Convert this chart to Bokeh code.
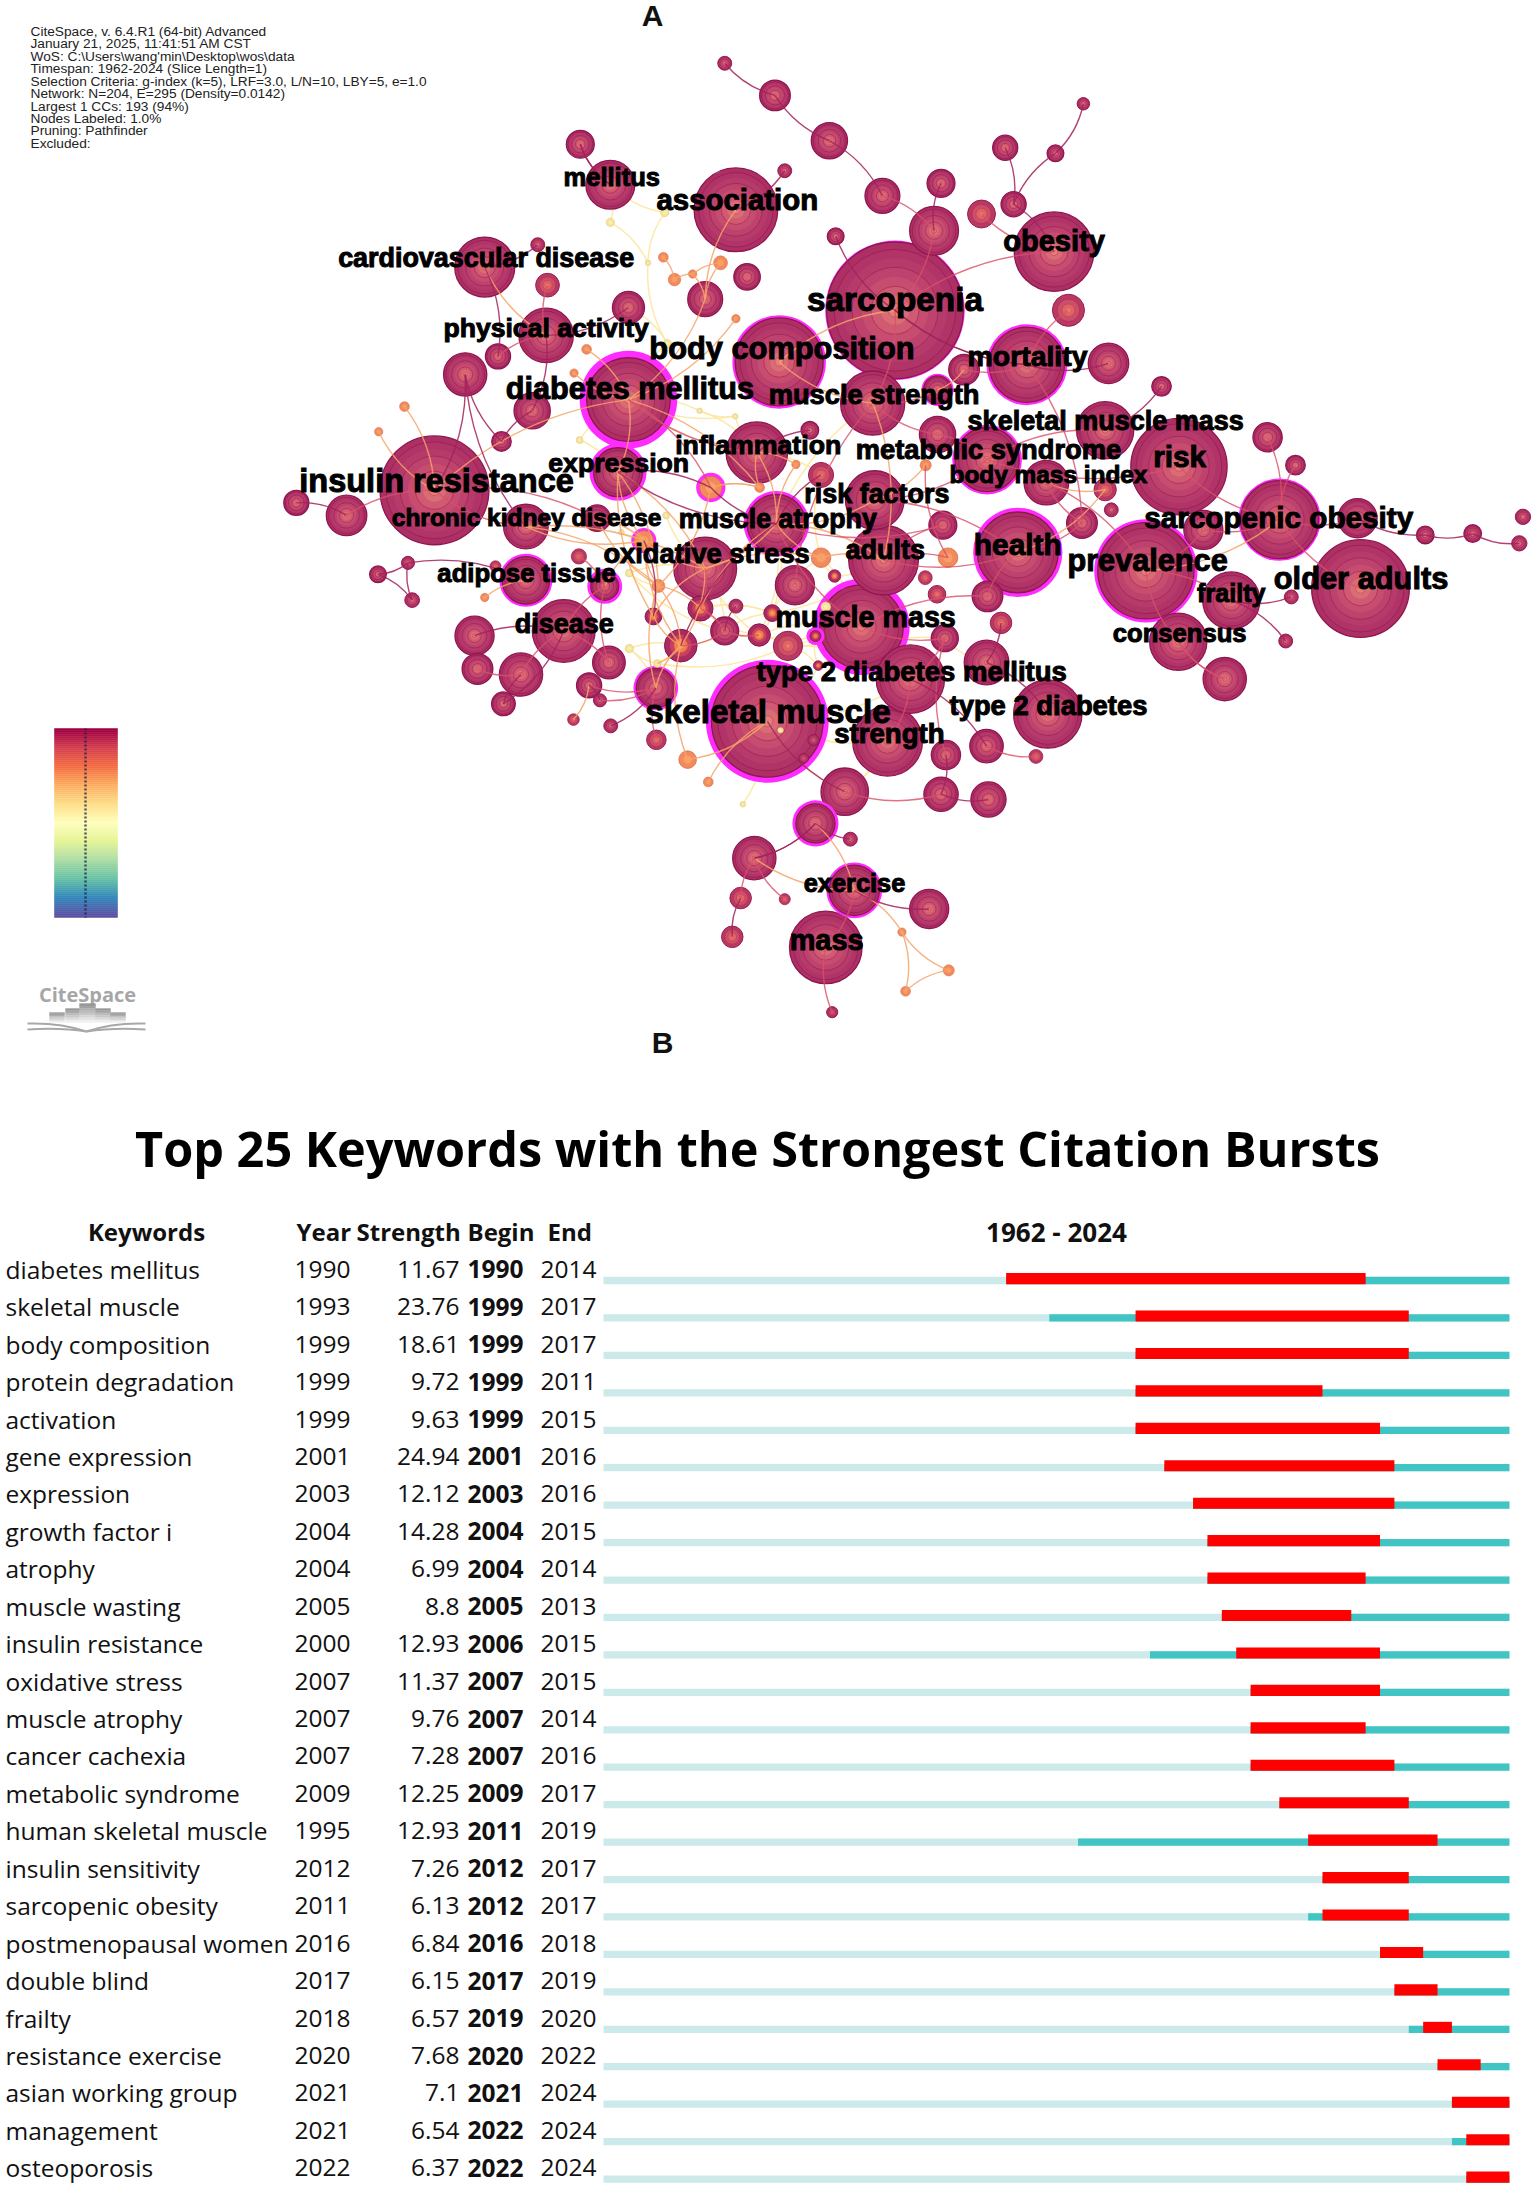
import numpy as np
from bokeh.plotting import figure
from bokeh.models import ColumnDataSource, Range1d
from bokeh.core.properties import value
from bokeh.embed import file_html
from bokeh.resources import INLINE
from bokeh.palettes import Spectral11

# ---------- burst table data ----------
keywords = ["diabetes mellitus", "skeletal muscle", "body composition", "protein degradation", "activation",
            "gene expression", "expression", "growth factor i", "atrophy", "muscle wasting",
            "insulin resistance", "oxidative stress", "muscle atrophy", "cancer cachexia", "metabolic syndrome",
            "human skeletal muscle", "insulin sensitivity", "sarcopenic obesity", "postmenopausal women", "double blind",
            "frailty", "resistance exercise", "asian working group", "management", "osteoporosis"]
years = [1990, 1993, 1999, 1999, 1999, 2001, 2003, 2004, 2004, 2005, 2000, 2007, 2007, 2007, 2009,
         1995, 2012, 2011, 2016, 2017, 2018, 2020, 2021, 2021, 2022]
strengths = [11.67, 23.76, 18.61, 9.72, 9.63, 24.94, 12.12, 14.28, 6.99, 8.8, 12.93, 11.37, 9.76, 7.28, 12.25,
             12.93, 7.26, 6.13, 6.84, 6.15, 6.57, 7.68, 7.1, 6.54, 6.37]
begins = [1990, 1999, 1999, 1999, 1999, 2001, 2003, 2004, 2004, 2005, 2006, 2007, 2007, 2007, 2009,
          2011, 2012, 2012, 2016, 2017, 2019, 2020, 2021, 2022, 2022]
ends = [2014, 2017, 2017, 2011, 2015, 2016, 2016, 2015, 2014, 2013, 2015, 2015, 2014, 2016, 2017,
        2019, 2017, 2017, 2018, 2019, 2020, 2022, 2024, 2024, 2024]
span_start, span_end = 1962, 2024

# ---------- network data (layout units), node id = position in list + 1 ----------
node_x = [519, 555, 415.5, 437, 527, 347, 385, 392, 450, 505,
          535, 516, 483, 475, 496, 437, 476, 464, 391, 356.5,
          333, 420, 411, 527, 478, 450, 381, 359, 289.5, 271,
          311, 248, 212, 442.5, 542, 509, 415, 501, 526.5, 376.5,
          427.5, 544, 461, 505, 556, 477, 445, 562, 594, 562,
          632, 674, 669, 598.5, 703, 726, 720, 756, 776, 755,
          641, 558, 765.3, 735.5, 794, 690.5, 625, 671.5, 832, 671.5,
          791.6, 844.5, 580, 707, 908, 928, 570, 663, 588, 626.5,
          749.5, 791.6, 796, 675.3, 916.6, 775, 862, 972.5, 1021, 1055,
          1088.4, 1091, 632.8, 729, 820.8, 974.6, 882, 925, 921, 844,
          877.3, 717, 707.3, 662.7, 679, 588, 597.7, 569.3, 671.1, 617,
          676.7, 706.6, 652, 750.5, 635.7, 677.5, 706.6, 742, 605, 674,
          708, 584, 609, 611.8, 665.5, 591.4, 596, 646, 679.5, 648.6,
          549.5, 564.3, 584, 586, 553, 591.4, 270.5, 292, 295, 376.5,
          347, 433, 414.5, 354.7, 450.6, 471.4, 467.9, 501.6, 527, 519,
          543.7, 487.5, 450.6, 470.7, 403.6, 339.7, 341.8, 373, 436, 421.8,
          360.4, 429.6, 469.6, 410.6, 437.3, 470, 492.4, 507.2, 532, 540.2,
          530.4, 524.4, 559, 582.6, 575.6]
node_y = [45, 68, 103, 132, 150, 191, 175, 204, 220, 214,
          198, 188, 200, 184, 196, 159, 152, 188, 240, 255,
          268, 250, 267, 228, 246, 286, 294, 316, 291, 309,
          351, 369, 360, 338, 324, 349, 315, 294, 298, 377,
          371, 349, 387, 407, 375, 369, 381, 644, 100.5, 122,
          140, 131, 165, 169, 153, 146, 105.5, 109.5, 74, 180,
          222, 259, 222, 261, 260, 264.5, 288.5, 279, 276.5, 311,
          308, 334, 308, 329, 313, 333, 332.5, 333, 340, 358,
          345.5, 350.5, 365, 376, 372, 374.4, 379.4, 371, 383, 382,
          389, 370, 401, 395.5, 408.7, 421.4, 430, 427.4, 459, 459.5,
          486.3, 446, 427, 413.6, 399.3, 399.3, 412.4, 419, 425.5, 448.8,
          457, 474.4, 486.3, 511.3, 530.8, 540.7, 534.3, 541.7, 567, 568.8,
          572.6, 589.7, 601, 637.7, 651, 678.6, 725, 667.6, 695, 710,
          516.5, 462.5, 455.4, 476.6, 439, 434.5, 411.2, 403, 429.7, 415.5,
          427.8, 419.8, 398.4, 405.5, 410.3, 419.5, 441.4, 435.7, 434, 451.8,
          454.7, 462.3, 464.4, 475.1, 451.8, 455.2, 479, 483, 474.4, 490.8,
          504, 501.5, 492.7, 515.3, 519.8, 529.8, 544, 560, 576, 614.6,
          643.2, 671, 523, 530, 543]
node_r = [5, 11, 10, 17.5, 30, 21.5, 5, 8.5, 11.5, 12.5,
          9.5, 5, 4.5, 3.5, 3, 3, 3, 2, 19.5, 9,
          15.5, 3.5, 3, 3, 3, 30, 13, 7, 3.5, 3,
          39, 14.5, 9, 17.5, 22, 8, 2.5, 2, 2, 16,
          9.5, 3.5, 7, 22.5, 21, 2.5, 2, 4, 13, 5,
          12.5, 10, 17.5, 6, 10, 9, 9, 6, 4.5, 28.5,
          49, 31.5, 11.5, 27, 14.5, 11, 23, 10, 7, 13,
          20.5, 34.5, 6.3, 23, 10.5, 7, 3, 4, 9, 21,
          16, 8, 5, 10, 28, 11, 14, 14, 6.3, 6.3,
          5.5, 5.5, 25, 29, 34.5, 35, 20.5, 5, 5, 20.5,
          15.5, 7.7, 11, 5, 7, 7, 4.5, 14, 6.3, 30,
          9.7, 16, 24.5, 24.5, 25, 10.5, 12, 5, 17, 12.3,
          12.6, 14, 5, 18, 14, 26, 4, 3, 4, 3.5,
          40, 10.5, 4, 3.5, 6, 3.5, 6, 4.7, 5.3, 17,
          3, 10, 5.5, 4, 2.8, 4.7, 6, 9, 5, 10,
          8, 11.7, 3, 2.8, 22.5, 14, 11, 15.5, 11.7, 9,
          8.5, 4.7, 14, 4.2, 5, 7, 6.3, 3.5, 2, 15.5,
          7.7, 7.7, 2, 4, 3.5]
# outer radius of the magenta centrality ring, by node id
node_ring = {26: 35, 34: 20.5, 36: 10.5, 43: 9, 45: 23.5, 61: 50, 62: 33.5, 64: 29, 68: 11.5, 74: 25,
             85: 29.5, 94: 32, 95: 37, 110: 34.5, 122: 16.5, 124: 20, 131: 44, 133: 6.5, 140: 19, 142: 12.5, 163: 16}
# node colour class by id; everything else is the dark crimson class
pink_ids = [8, 48, 55, 63, 79, 82, 102, 109, 132, 143, 144, 164, 166, 171, 172, 104, 118]
orange_ids = [12, 13, 14, 15, 22, 23, 24, 29, 30, 36, 42, 43, 77, 78, 105, 106, 128, 129, 130, 141, 146, 167, 168]
yellow_ids = [16, 17, 18, 25, 37, 38, 39, 46, 47, 136, 145, 153, 154, 169, 173]
warm_core_ids = [107, 134, 135, 147, 148, 151, 152, 133]

edges_crimson = [(1, 2), (2, 49), (49, 51), (52, 53), (54, 61), (56, 60), (57, 56), (58, 56), (59, 58), (50, 5), (3, 4), (4, 3),
                 (6, 7), (9, 19), (21, 28), (21, 40), (21, 31), (28, 27), (27, 19), (32, 33), (137, 138), (137, 139), (138, 139),
                 (138, 140), (155, 156), (155, 161), (158, 161), (160, 162), (163, 165), (61, 64), (64, 61), (64, 65), (71, 69),
                 (88, 89), (89, 90), (90, 91), (97, 98), (97, 99), (102, 112), (112, 114), (113, 117), (116, 120), (119, 131),
                 (120, 121), (122, 123), (122, 170), (170, 122), (124, 125), (171, 172), (149, 150), (147, 43), (6, 20),
                 (45, 152), (34, 45), (36, 45), (73, 35), (79, 45), (34, 36)]
edges_red = [(51, 53), (53, 61), (55, 60), (60, 61), (8, 19), (19, 20), (31, 32), (31, 40), (31, 41), (26, 36),
             (142, 155), (143, 142), (155, 158), (157, 158), (155, 159), (142, 159), (160, 163), (162, 163), (163, 166),
             (148, 44), (148, 150), (150, 152), (150, 151), (45, 110), (110, 111), (110, 103), (111, 116), (117, 118),
             (119, 120), (124, 126), (126, 127), (170, 171), (170, 48), (61, 67), (63, 64), (64, 66), (67, 68), (67, 70),
             (64, 86), (70, 74), (71, 74), (72, 74), (72, 85), (74, 80), (81, 86), (81, 95), (75, 85), (76, 85), (85, 88),
             (85, 87), (87, 95), (95, 97), (95, 100), (100, 101), (101, 100), (96, 85), (94, 86), (94, 80), (94, 93),
             (93, 84), (93, 105), (103, 94), (26, 35), (113, 111), (113, 115), (45, 84), (67, 108), (78, 105)]
edges_orange = [(10, 12), (10, 15), (14, 13), (13, 15), (15, 12), (10, 26), (5, 10), (6, 19), (29, 31), (30, 31), (26, 22),
                (26, 23), (26, 34), (26, 31), (34, 43), (34, 44), (43, 44), (41, 43), (40, 43), (43, 146), (146, 148), (146, 147),
                (147, 152), (146, 152), (43, 142), (140, 141), (160, 164), (154, 152), (167, 152), (167, 131), (168, 131), (44, 45),
                (122, 124), (124, 170), (124, 128), (128, 129), (128, 130), (129, 130), (61, 62), (66, 68), (82, 81), (82, 94),
                (78, 80), (77, 45), (80, 45), (85, 95), (45, 148), (35, 45), (24, 26), (40, 146), (34, 146), (44, 152), (93, 45),
                (62, 67), (44, 147), (35, 42), (42, 36), (45, 106), (106, 44), (106, 93), (146, 163), (43, 152), (34, 147),
                (26, 42), (36, 42), (152, 163), (40, 44), (41, 146), (77, 35), (67, 93), (36, 146)]
edges_yellow = [(4, 16), (4, 17), (16, 18), (17, 18), (18, 25), (25, 26), (9, 25), (35, 26), (38, 39), (26, 38), (26, 39),
                (135, 148), (151, 110), (148, 151), (150, 135), (107, 110), (136, 110), (132, 113), (133, 132), (133, 134),
                (134, 113), (131, 134), (131, 132), (131, 115), (131, 113), (110, 132), (163, 153), (163, 154), (153, 154), (119, 122),
                (119, 115), (45, 135), (45, 151), (107, 106), (44, 150), (151, 135), (37, 26), (37, 34), (46, 44), (47, 43),
                (131, 169), (145, 44), (145, 146), (112, 111), (115, 113), (44, 151), (106, 110), (67, 45), (35, 79), (79, 106),
                (135, 93), (107, 93), (151, 132), (150, 151), (154, 132), (145, 150), (153, 152), (134, 132), (148, 135),
                (133, 151), (119, 131), (136, 133), (38, 35), (39, 35), (154, 151), (134, 111), (115, 119), (106, 135)]

# ---------- labels (centre x, centre y, drawn width) ----------
label_text = ["sarcopenia", "insulin resistance", "skeletal muscle", "diabetes mellitus", "body composition", "association",
              "older adults", "prevalence", "obesity", "risk", "health", "mass", "mortality", "sarcopenic obesity",
              "muscle mass", "cardiovascular disease", "physical activity", "muscle strength", "mellitus", "inflammation",
              "expression", "metabolic syndrome", "skeletal muscle mass", "body mass index", "risk factors",
              "chronic kidney disease", "muscle atrophy", "oxidative stress", "adults", "adipose tissue", "disease",
              "type 2 diabetes mellitus", "type 2 diabetes", "strength", "frailty", "consensus", "exercise"]
label_x = [641, 312.5, 550, 451, 560, 528, 975, 822, 755, 845, 729, 592, 736, 916, 620, 348, 391, 626, 438, 543,
           443, 708, 792, 751, 628, 377, 557, 506, 634, 377, 404, 653, 751, 637, 882, 845, 612]
label_y = [214.5, 344.5, 509.5, 277.5, 249.5, 142.5, 414.5, 401.5, 172.5, 326.5, 389.5, 673.5, 254.5, 370.5, 441.5, 184.5, 234.5, 282.5, 126.5, 318.5,
           331.5, 321.5, 301.5, 339.5, 353.5, 370.5, 371.5, 396.5, 393.5, 410.5, 446.5, 480.5, 505.5, 525.5, 424.5, 453.5, 632.5]
label_w = [126, 197, 176, 178, 190, 116, 125, 115, 73, 38, 63, 53, 86, 193, 129, 212, 147, 151, 69, 119,
           101, 190, 198, 142, 104, 193, 142, 148, 57, 128, 71, 222, 142, 79, 49, 96, 73]

info_lines = ["CiteSpace, v. 6.4.R1 (64-bit) Advanced", "January 21, 2025, 11:41:51 AM CST",
              "WoS: C:\\Users\\wang'min\\Desktop\\wos\\data", "Timespan: 1962-2024 (Slice Length=1)",
              "Selection Criteria: g-index (k=5), LRF=3.0, L/N=10, LBY=5, e=1.0",
              "Network: N=204, E=295 (Density=0.0142)", "Largest 1 CCs: 193 (94%)", "Nodes Labeled: 1.0%",
              "Pruning: Pathfinder", "Excluded:"]
logo_bar_tops = [1012, 1008, 1003, 1008, 1012]

# ---------- page set-up ----------
W, H = 1535, 2188
S = 1535 / 1100
px_year = 14.38
x0_year = 603
row0, row_h = 1280.0, 37.44

p = figure(width=W, height=H, output_backend="svg", toolbar_location=None,
           x_range=Range1d(0, W), y_range=Range1d(H, 0),
           x_axis_location=None, y_axis_location=None, min_border=0,
           outline_line_color=None, background_fill_color="white", border_fill_color="white")
p.grid.visible = False
p.extra_x_ranges["year"] = Range1d(span_start + (0 - x0_year) / px_year, span_start + (W - x0_year) / px_year)
p.extra_y_ranges["row"] = Range1d((H - row0) / row_h, (0 - row0) / row_h)

# ---------- network ----------
X = np.array(node_x) * S
Y = np.array(node_y) * S
R = np.array(node_r) * S
tone = {}
for i in pink_ids: tone[i] = "pink"
for i in orange_ids: tone[i] = "orange"
for i in yellow_ids: tone[i] = "yellow"
for i in warm_core_ids: tone[i] = "warm"

stacks = {
    "crimson": [(1, "#ad3064", "#8f1650", 1.3), (.89, "#b03468", "#a01f56", 1.0), (.76, "#b63b6b", None, 0),
                (.63, "#bd426e", "#a8285a", 1.0), (.49, "#c64c70", None, 0), (.35, "#cf5a72", "#b8325c", 1.0),
                (.21, "#da6c76", None, 0), (.1, "#e57e78", "#cf4a5c", 0.8)],
    "pink": [(1, "#b83a62", "#9a1c55", 1.0), (.7, "#cc4f68", "#b8305c", 1.0), (.4, "#dd6468", "#cc4058", 0.8),
             (.15, "#ee7e66", "#e06058", 0.6)],
    "warm": [(1, "#a82c62", "#8c1150", 1.0), (.7, "#c8405f", "#a8285c", 0.8), (.42, "#f0804a", "#e06048", 0.6),
             (.2, "#f8a060", "#f08050", 0.5)],
    "orange": [(1, "#f28a5c", "#d96a50", 0.8), (.5, "#f7a068", "#f08a5a", 0.5)],
    "yellow": [(1, "#f5e49a", "#e0c880", 0.8), (.5, "#f8eeb0", "#eedd99", 0.5)],
}
cx, cy, cr, cf, cl, cw = [], [], [], [], [], []
for k in np.argsort(-R):
    nid = int(k) + 1
    if nid in node_ring:
        cx.append(X[k]); cy.append(Y[k]); cr.append(node_ring[nid] * S); cf.append("#ff2cff"); cl.append("#ff2cff"); cw.append(0)
    for frac, fill, line, lw in stacks[tone.get(nid, "crimson")]:
        if R[k] * frac < 1.2 and frac < 1:
            continue
        cx.append(X[k]); cy.append(Y[k]); cr.append(R[k] * frac); cf.append(fill); cl.append(line or fill)
        cw.append(lw if R[k] > 8 else lw * 0.7)
node_src = ColumnDataSource(dict(x=cx, y=cy, r=cr, f=cf, l=cl, w=cw))


def draw_edges(edges, color, width, alpha):
    xa, ya, xb, yb, qx, qy = [], [], [], [], [], []
    for a, b in edges:
        x1, y1, x2, y2 = X[a - 1], Y[a - 1], X[b - 1], Y[b - 1]
        sign = 1 if a < b else -1
        bend = 0.16 * sign * (1 if (a + b) % 2 else -1)
        xa.append(x1); ya.append(y1); xb.append(x2); yb.append(y2)
        qx.append((x1 + x2) / 2 - (y2 - y1) * bend)
        qy.append((y1 + y2) / 2 + (x2 - x1) * bend)
    p.quadratic(x0=xa, y0=ya, x1=xb, y1=yb, cx=qx, cy=qy, line_color=color, line_width=width, line_alpha=alpha)


draw_edges(edges_yellow, "#fde7a0", 1.5, 0.9)
p.circle(x="x", y="y", radius="r", fill_color="f", line_color="l", line_width="w", source=node_src)
draw_edges(edges_orange, "#f6a468", 1.4, 0.85)
draw_edges(edges_red, "#d8506a", 1.4, 0.8)
draw_edges(edges_crimson, "#a3225c", 1.4, 0.85)

arial_bold = dict(zip("abcdefghijklmnopqrstuvwxyz 2",
                      [556, 611, 556, 611, 556, 333, 611, 611, 278, 278, 556, 278, 889, 611, 611, 611, 611,
                       389, 556, 333, 611, 556, 778, 556, 556, 500, 278, 556]))
label_size = ["%.1fpx" % (w * S * 1000 / sum(arial_bold[c] for c in t)) for t, w in zip(label_text, label_w)]
p.text(x=[v * S for v in label_x], y=[v * S for v in label_y], text=label_text, text_font=value("Liberation Sans"),
       text_font_style="bold", text_font_size=label_size, text_align="center", text_baseline="middle", text_color="#000000",
       outline_color="#000000")

# info block, panel letters
p.text(x=[30] * len(info_lines), y=[31 + 12.43 * i for i in range(len(info_lines))], text=info_lines,
       text_font=value("Liberation Sans"), text_font_size="13.7px", text_baseline="middle", text_color="#222222")
p.text(x=[652, 662], y=[15, 1042], text=["A", "B"], text_font=value("Liberation Sans"), text_font_style="bold",
       text_font_size="30px", text_align="center", text_baseline="middle", text_color="#111111")

# colour bar
stops = np.array([[int(c[j:j + 2], 16) for j in (1, 3, 5)] for c in Spectral11[::-1]], dtype=float)
n_strip = 95
pos = np.linspace(0, len(stops) - 1, n_strip)
strip = ["#%02x%02x%02x" % tuple(int(np.interp(t, range(len(stops)), stops[:, j])) for j in range(3)) for t in pos]
edges_y = np.linspace(728, 917, n_strip + 1)
p.quad(left=54, right=117, top=edges_y[:-1], bottom=edges_y[1:], fill_color=strip, line_color=strip, line_width=0.5)
p.line(x=[85, 85], y=[728, 917], line_color="#222244", line_width=2.5, line_dash="2 2", line_alpha=0.75)

# logo
p.text(x=[87], y=[994], text=["CiteSpace"], text_font=value("Open Sans"), text_font_style="bold", text_font_size="20px",
       text_align="center", text_baseline="middle", text_color="#a6a6a6")
bar_left = [49, 65, 79, 95, 110]
bar_right = [64, 79, 95, 110, 125]
for l, r, t in zip(bar_left, bar_right, logo_bar_tops):
    ys = np.linspace(t, 1022, 9)
    shades = ["#%02x%02x%02x" % (g, g, g) for g in np.linspace(150, 240, 8).astype(int)]
    p.quad(left=l, right=r, top=ys[:-1], bottom=ys[1:], fill_color=shades, line_color=shades, line_width=0.3)
p.quadratic(x0=[27, 27, 145, 145], y0=[1023, 1029, 1023, 1029], x1=[86, 86, 86, 86], y1=[1031] * 4,
            cx=[60, 60, 112, 112], cy=[1022, 1027, 1022, 1027], line_color="#a8a8a8", line_width=2)

# ---------- title and table ----------
p.text(x=[757], y=[1147], text=["Top 25 Keywords with the Strongest Citation Bursts"], text_font=value("Open Sans"),
       text_font_style="bold", text_font_size="48.6px", text_align="center", text_baseline="middle", text_color="#000000")

rows = np.arange(len(keywords))
# burst bars on the year scale
p.quad(left=[span_start] * len(rows), right=[span_end + 1] * len(rows), top=rows - 0.097, bottom=rows + 0.097,
       fill_color="#cdeaea", line_color=None, x_range_name="year", y_range_name="row")
p.quad(left=years, right=[span_end + 1] * len(rows), top=rows - 0.097, bottom=rows + 0.097,
       fill_color="#40c4c4", line_color=None, x_range_name="year", y_range_name="row")
p.quad(left=begins, right=[e + 1 for e in ends], top=rows - 0.2, bottom=rows + 0.097,
       fill_color="#ff0000", line_color=None, x_range_name="year", y_range_name="row")

tfont = value("Open Sans")
ty = rows - 0.30
common = dict(text_font=tfont, text_font_size="24.5px", text_baseline="middle", text_color="#111111", y_range_name="row")
p.text(x=[5] * len(rows), y=ty, text=keywords, **common)
p.text(x=[294] * len(rows), y=ty, text=[str(v) for v in years], **common)
p.text(x=[459] * len(rows), y=ty, text=[str(v) for v in strengths], text_align="right", **common)
p.text(x=[467] * len(rows), y=ty, text=[str(v) for v in begins], text_font_style="bold", **common)
p.text(x=[596] * len(rows), y=ty, text=[str(v) for v in ends], text_align="right", **common)
hy = (1231 - row0) / row_h
p.text(x=[146, 296, 356, 467, 547, 1056], y=[hy] * 6,
       text=["Keywords", "Year", "Strength", "Begin", "End", "%d - %d" % (span_start, span_end)],
       text_font=tfont, text_font_style="bold", text_font_size=["24px"] * 5 + ["26px"], text_baseline="middle",
       text_color="#111111", text_align=["center", "left", "left", "left", "left", "center"], y_range_name="row")

open("out.html", "w").write(file_html(p, INLINE))
